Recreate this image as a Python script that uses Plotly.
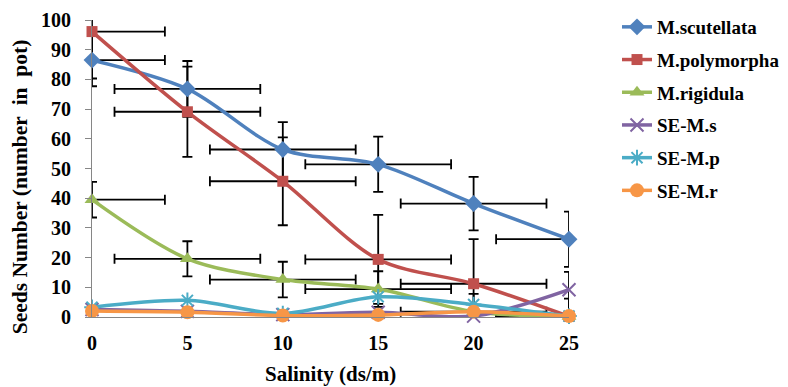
import plotly.graph_objects as go

salinity = [0, 5, 10, 15, 20, 25]
x_ticks = [0, 5, 10, 15, 20, 25]
y_ticks = [0, 10, 20, 30, 40, 50, 60, 70, 80, 90, 100]

scutellata = [86.5, 76.8, 56.4, 51.4, 38.2, 26.2]
polymorpha = [96.1, 69.1, 45.7, 19.4, 11.2, 0.2]
rigidula = [39.5, 19.6, 12.6, 9.4, 1.8, 0.2]
se_ms = [2.5, 1.9, 0.8, 1.6, 0.3, 9.2]
se_mp = [3.3, 5.6, 1.2, 6.8, 4.2, 0.3]
se_mr = [2.0, 1.6, 0.5, 0.7, 1.8, 0.3]

err_scutellata = [8.8, 9.4, 9.2, 9.3, 9.0, 9.3]
err_polymorpha = [15.8, 15.2, 14.8, 15.0, 15.0, 15.0]
err_rigidula = [6.0, 5.9, 6.0, 6.0, 6.0, 6.0]
err_x = [3.82, 3.82, 3.82, 3.82, 3.82, 3.82]

names = ["M.scutellata", "M.polymorpha", "M.rigidula", "SE-M.s", "SE-M.p", "SE-M.r"]
colors = ["#4F81BD", "#C0504D", "#9BBB59", "#8064A2", "#4BACC6", "#F79646"]
symbols = ["diamond", "square", "triangle-up", "x-thin-open", "asterisk-open", "circle"]
sizes = [13, 11, 13, 13, 13, 14]
series = [scutellata, polymorpha, rigidula, se_ms, se_mp, se_mr]

fig = go.Figure()

# error bars (clipped to the plot area)
for vals, errs in [(scutellata, err_scutellata), (polymorpha, err_polymorpha), (rigidula, err_rigidula)]:
    fig.add_trace(go.Scatter(
        x=salinity, y=vals, mode="markers",
        marker=dict(size=1, opacity=0),
        error_y=dict(type="data", array=errs, color="black", thickness=1.8, width=5),
        error_x=dict(type="data", array=err_x, color="black", thickness=1.8, width=5),
        showlegend=False, hoverinfo="skip", cliponaxis=True,
    ))

for i, (name, vals) in enumerate(zip(names, series)):
    marker = dict(symbol=symbols[i], size=sizes[i], color=colors[i])
    if symbols[i] in ("x-thin-open", "asterisk-open"):
        marker["line"] = dict(color=colors[i], width=2)
    fig.add_trace(go.Scatter(
        x=salinity, y=vals, name=name, mode="lines+markers",
        line=dict(color=colors[i], width=3.5, shape="spline", smoothing=0.9),
        marker=marker, cliponaxis=False, legendgroup=name,
    ))

font_family = "Liberation Serif, Times New Roman, serif"

fig.update_layout(
    width=788, height=387,
    margin=dict(l=92, r=219, t=20, b=70, autoexpand=False),
    paper_bgcolor="white", plot_bgcolor="white",
    font=dict(family=font_family, color="black"),
    showlegend=True,
    legend=dict(
        xref="container", yref="container",
        x=617 / 788, y=1 - 8 / 387, xanchor="left", yanchor="top",
        font=dict(family=font_family, size=19, color="black", weight="bold"),
        traceorder="grouped", tracegroupgap=5, bgcolor="rgba(0,0,0,0)",
        maxheight=360,
    ),
    xaxis=dict(
        range=[0, 25], tickvals=x_ticks, ticktext=[str(t) for t in x_ticks],
        showgrid=False, zeroline=False, showline=True, linecolor="#868686", linewidth=1.2,
        ticks="", ticklabelstandoff=8,
        tickfont=dict(family=font_family, size=20, color="black", weight="bold"),
    ),
    yaxis=dict(
        range=[0, 100], tickvals=y_ticks, ticktext=[str(t) for t in y_ticks],
        showgrid=False, zeroline=False, showline=True, linecolor="#868686", linewidth=1.2,
        ticks="outside", ticklen=6, tickcolor="#868686", ticklabelstandoff=10,
        tickfont=dict(family=font_family, size=20, color="black", weight="bold"),
    ),
    annotations=[
        dict(text="<b>Salinity (ds/m)</b>", xref="paper", yref="paper",
             x=0.5, y=-0.192, xanchor="center", yanchor="middle", showarrow=False,
             font=dict(family=font_family, size=21, color="black")),
        dict(text="<b>Seeds Number (number\u00a0\u00a0in\u00a0\u00a0pot)</b>", xref="paper", yref="paper",
             x=-0.151, y=0.44, xanchor="center", yanchor="middle", textangle=-90, showarrow=False,
             font=dict(family=font_family, size=21.5, color="black")),
    ],
)

fig.write_html("out.html", config={"displayModeBar": False},
               post_script="document.body.style.margin='0';")
